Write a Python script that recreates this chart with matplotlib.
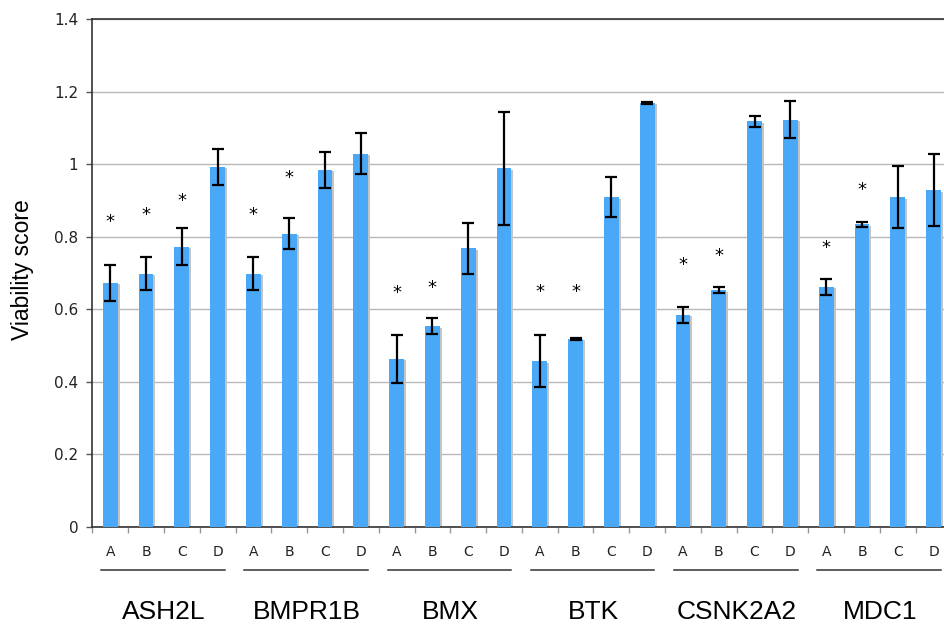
import matplotlib
matplotlib.use("Agg")
import matplotlib.pyplot as plt
import matplotlib.transforms as mtransforms
import numpy as np

genes = ["ASH2L", "BMPR1B", "BMX", "BTK", "CSNK2A2", "MDC1"]
conditions = ["A", "B", "C", "D"]

values = [
    0.673, 0.698, 0.773, 0.993,   # ASH2L
    0.698, 0.808, 0.984, 1.029,   # BMPR1B
    0.463, 0.553, 0.768, 0.988,   # BMX
    0.457, 0.519, 0.909, 1.169,   # BTK
    0.585, 0.653, 1.118, 1.123,   # CSNK2A2
    0.662, 0.834, 0.909, 0.928,   # MDC1
]
errors = [
    0.050, 0.045, 0.050, 0.050,
    0.045, 0.043, 0.050, 0.056,
    0.065, 0.022, 0.070, 0.155,
    0.072, 0.003, 0.056, 0.003,
    0.022, 0.008, 0.015, 0.050,
    0.022, 0.007, 0.085, 0.099,
]
# asterisk heights (None = no significance mark)
star_heights = [
    0.841, 0.860, 0.899, None,
    0.860, 0.962, None, None,
    0.644, 0.658, None, None,
    0.648, 0.648, None, None,
    0.722, 0.747, None, None,
    0.770, 0.930, None, None,
]

BAR = "#4aa8f8"
SHADOW = "#c4c4c4"

fig = plt.figure(figsize=(9.45, 6.28), dpi=100)
ax = fig.add_axes([92.3 / 945, 101 / 628, (951.5 - 92.3) / 945, 508 / 628])

n = len(values)
x = np.arange(n) + 0.5
w = 0.41

ax.set_axisbelow(True)
ax.yaxis.grid(True, color="#b8b8b8", linewidth=1.0)
ax.bar(x + 0.06, np.array(values) - 0.004, width=w, color=SHADOW, zorder=2, linewidth=0)
ax.bar(x, values, width=w, color=BAR, zorder=3, linewidth=0)
ax.errorbar(x, values, yerr=errors, fmt="none", ecolor="black", elinewidth=1.6,
            capsize=4, capthick=1.6, zorder=4)

for xi, s in zip(x, star_heights):
    if s is not None:
        ax.text(xi, s, "*", ha="center", va="center", fontsize=13,
                family="DejaVu Sans", color="black", zorder=5)

ax.set_xlim(0, n)
ax.set_ylim(0, 1.4)
ax.set_yticks(np.arange(0, 1.41, 0.2))
ax.set_yticklabels(["0", "0.2", "0.4", "0.6", "0.8", "1", "1.2", "1.4"])
ax.tick_params(axis="y", length=4, width=1, color="#555555", pad=6,
               labelsize=11, labelcolor="#222222")

ax.set_xticks(np.arange(0, n + 1))
ax.set_xticklabels([])
ax.tick_params(axis="x", which="major", length=4, width=1, color="#999999")
ax.set_xticks(x, minor=True)
ax.set_xticklabels(conditions * len(genes), minor=True)
ax.tick_params(axis="x", which="minor", length=0, pad=13, labelsize=10,
               labelcolor="#222222")

for sp in ["left", "bottom", "top"]:
    ax.spines[sp].set_color("#333333")
    ax.spines[sp].set_linewidth(1.2)
ax.spines["right"].set_visible(False)

trans = mtransforms.blended_transform_factory(ax.transData, ax.transAxes)
for g, gene in enumerate(genes):
    x0 = g * 4 + 0.25
    x1 = g * 4 + 3.7
    ax.plot([x0, x1], [-0.085, -0.085], color="#333333", linewidth=1.1,
            transform=trans, clip_on=False)
    ax.text(g * 4 + 2.0, -0.168, gene, transform=trans, ha="center", va="center",
            fontsize=19, family="Liberation Sans", color="black")

fig.text(23 / 945, 1 - 270 / 628, "Viability score", rotation=90, ha="center",
         va="center", fontsize=16.5, family="Liberation Sans", color="black")

fig.savefig("out.png", dpi=100)
